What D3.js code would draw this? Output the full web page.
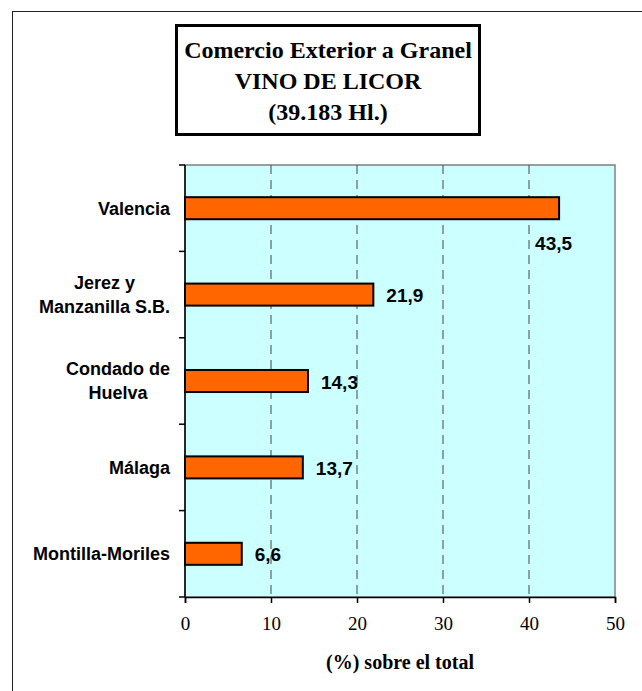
<!DOCTYPE html>
<html>
<head>
<meta charset="utf-8">
<script src="https://cdn.jsdelivr.net/npm/d3@7"></script>
<style>
  body { margin: 0; background: #fff; }
  .cat { font-family: "Liberation Sans", Arial, sans-serif; font-weight: bold; font-size: 18px; fill: #000; }
  .val { font-family: "Liberation Sans", Arial, sans-serif; font-weight: bold; font-size: 19px; fill: #000; }
  .tick text { font-family: "Liberation Serif", "Times New Roman", serif; font-size: 19px; fill: #000; }
  .title { font-family: "Liberation Serif", "Times New Roman", serif; font-weight: bold; font-size: 24px; }
  .axtitle { font-family: "Liberation Serif", "Times New Roman", serif; font-weight: bold; font-size: 20px; }
</style>
</head>
<body>
<div class="chart"></div>
<script>
// data
var categories = ["Valencia", "Jerez y\nManzanilla S.B.", "Condado de\nHuelva", "Málaga", "Montilla-Moriles"];
var values = [43.5, 21.9, 14.3, 13.7, 6.6];
var valueLabels = ["43,5", "21,9", "14,3", "13,7", "6,6"];
var xTicks = [0, 10, 20, 30, 40, 50];
var titleLines = ["Comercio Exterior a Granel", "VINO DE LICOR", "(39.183 Hl.)"];
var xTitle = "(%) sobre el total";

var margin = {top: 165, right: 27, bottom: 94, left: 185},
    width = 642 - margin.left - margin.right,
    height = 691 - margin.top - margin.bottom;

var svg = d3.select(".chart").append("svg")
    .attr("width", 642)
    .attr("height", 691);

// outer frame
svg.append("rect")
    .attr("x", 12.5).attr("y", 11.5)
    .attr("width", 700).attr("height", 700)
    .attr("fill", "none").attr("stroke", "#222").attr("stroke-width", 1);

// title box
var tb = svg.append("g").attr("transform", "translate(175,24)");
tb.append("rect")
    .attr("x", 1.5).attr("y", 1.5)
    .attr("width", 303).attr("height", 109)
    .attr("fill", "#fff").attr("stroke", "#000").attr("stroke-width", 3);
tb.selectAll(".title")
    .data(titleLines)
  .enter().append("text")
    .attr("class", "title")
    .attr("text-anchor", "middle")
    .attr("x", 153)
    .attr("y", function(d, i) { return 34 + i * 31; })
    .text(function(d) { return d; });

var data = categories.map(function(c, i) { return {cat: c, value: values[i], label: valueLabels[i]}; });

var x = d3.scaleLinear().domain([0, 50]).range([0, width]);
var y = d3.scaleBand().domain(categories).range([0, height]).padding(0);

var g = svg.append("g")
    .attr("transform", "translate(" + margin.left + "," + margin.top + ")");

// plot background
g.append("rect")
    .attr("width", width).attr("height", height)
    .attr("fill", "#ccffff")
    .attr("stroke", "#808080").attr("stroke-width", 1.5);

// dashed grid lines
g.selectAll(".grid")
    .data(xTicks.slice(1, -1))
  .enter().append("line")
    .attr("class", "grid")
    .attr("x1", function(d) { return x(d); })
    .attr("x2", function(d) { return x(d); })
    .attr("y1", 0).attr("y2", height)
    .attr("stroke", "#444").attr("stroke-width", 1)
    .attr("stroke-dasharray", "9,6");

// x axis
var xAxis = g.append("g")
    .attr("transform", "translate(0," + height + ")")
    .call(d3.axisBottom(x).tickValues(xTicks).tickSize(6).tickPadding(14));
xAxis.select(".domain").attr("stroke", "#000").attr("stroke-width", 1.5);
xAxis.selectAll(".tick line").attr("stroke", "#000").attr("stroke-width", 1.5);

// y axis: ticks sit on the band boundaries
var bounds = d3.range(categories.length + 1).map(function(i) { return i * y.step(); });
g.append("line")
    .attr("x1", 0).attr("x2", 0).attr("y1", 0).attr("y2", height)
    .attr("stroke", "#000").attr("stroke-width", 1.5);
g.selectAll(".ytick")
    .data(bounds)
  .enter().append("line")
    .attr("class", "ytick")
    .attr("x1", -6).attr("x2", 0)
    .attr("y1", function(d) { return d; })
    .attr("y2", function(d) { return d; })
    .attr("stroke", "#000").attr("stroke-width", 1.5);

// category labels (multi-line blocks centred on themselves, right edge at 170)
g.selectAll(".catg")
    .data(data)
  .enter().append("g")
    .attr("class", "catg")
    .each(function(d) {
      var lines = d.cat.split("\n");
      var sel = d3.select(this);
      var cy = y(d.cat) + y.bandwidth() / 2;
      var texts = lines.map(function(l, i) {
        return sel.append("text")
          .attr("class", "cat")
          .attr("y", cy + (i - (lines.length - 1) / 2) * 24)
          .attr("dy", "0.35em")
          .attr("text-anchor", "middle")
          .text(l);
      });
      var maxW = d3.max(texts, function(t) { return t.node().getComputedTextLength(); });
      texts.forEach(function(t) { t.attr("x", -15 - maxW / 2); });
    });

// bars
var barFrac = 0.255;
g.selectAll(".bar")
    .data(data)
  .enter().append("rect")
    .attr("class", "bar")
    .attr("x", 0)
    .attr("y", function(d) { return y(d.cat) + y.bandwidth() * (1 - barFrac) / 2; })
    .attr("width", function(d) { return x(d.value); })
    .attr("height", y.bandwidth() * barFrac)
    .attr("fill", "#ff6600")
    .attr("stroke", "#000").attr("stroke-width", 2);

// value labels; the longest bar gets its label below the bar end
var maxV = d3.max(values);
g.selectAll(".val")
    .data(data)
  .enter().append("text")
    .attr("class", "val")
    .attr("x", function(d) { return d.value === maxV ? x(d.value) - 24 : x(d.value) + 13; })
    .attr("y", function(d) {
      var cy = y(d.cat) + y.bandwidth() / 2;
      return d.value === maxV ? cy + 35 : cy + 1;
    })
    .attr("dy", "0.35em")
    .text(function(d) { return d.label; });

// x axis title
g.append("text")
    .attr("class", "axtitle")
    .attr("text-anchor", "middle")
    .attr("x", width / 2)
    .attr("y", height + 72)
    .text(xTitle);
</script>
</body>
</html>
